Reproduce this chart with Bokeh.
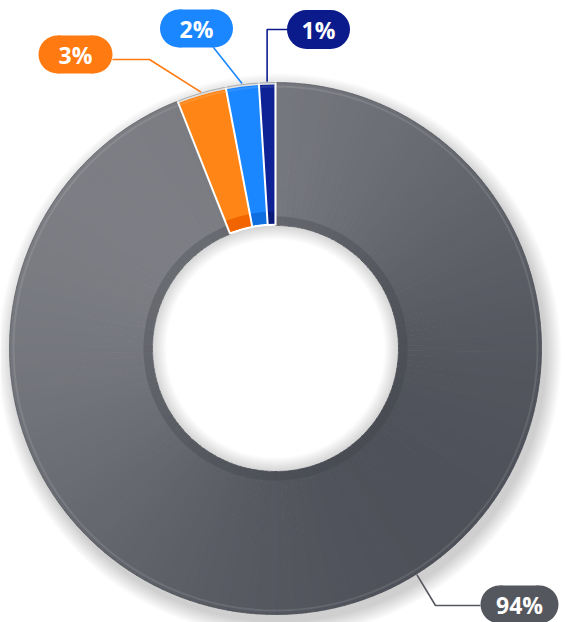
import numpy as np
from bokeh.plotting import figure
from bokeh.models import Range1d
from bokeh.core.properties import value
from bokeh.embed import file_html
from bokeh.resources import INLINE

# ---------------- data (anticlockwise from 12 o'clock) ----------------
labels = ["1%", "2%", "3%", "94%"]
shares = [1, 2, 3, 94]
slice_colors = ["#0e2296", "#1a86ff", "#ff8616", "#5e6168"]
face_colors = ["#0a1a78", "#0f6fe0", "#f26400", "#4c4f56"]
box_colors = ["#0b1b8c", "#1a86ff", "#ff7a10", "#55575e"]

# ---------------- layout (screen pixels) ----------------
CX, CY = 275, 348
R_OUT, R_IN = 266, 123
W, H = 565, 622

def S(sx, sy):
    return sx - CX, CY - sy

box_center = [(318, 29), (196, 28), (75, 54), (519, 604)]
box_size = [(63, 39), (73, 38), (74, 38), (78, 38)]
leader_start = [(287, 29), (213, 47), (112, 59), (480, 605)]
leader_elbow = ["v", None, (149, 59), (435, 605)]
anchor_override = [None, None, None, -58.0]

p = figure(width=W, height=H,
           x_range=Range1d(-CX, W - CX), y_range=Range1d(CY - H, CY),
           x_axis_type=None, y_axis_type=None,
           output_backend="svg", toolbar_location=None, min_border=0)
p.grid.visible = False
p.outline_line_color = None
p.background_fill_color = "white"
p.border_fill_color = "white"

# angles
vals = np.array(shares, dtype=float)
frac = vals / vals.sum()
starts = np.pi / 2 + 2 * np.pi * np.concatenate([[0], np.cumsum(frac)[:-1]])
ends = starts + 2 * np.pi * frac

# ---------------- soft outer shadow ----------------
for i in range(16):
    p.annulus(x=4, y=-7, inner_radius=200, outer_radius=R_OUT + 16 - i,
              fill_color="black", fill_alpha=0.012, line_color=None)

# ---------------- slices ----------------
def mix(c1, c2, t):
    a = np.array([int(c1[k:k + 2], 16) for k in (1, 3, 5)], dtype=float)
    b = np.array([int(c2[k:k + 2], 16) for k in (1, 3, 5)], dtype=float)
    c = a + (b - a) * t
    return "#%02x%02x%02x" % tuple(int(round(v)) for v in c)

for i in range(len(shares)):
    a0, a1 = starts[i], ends[i]
    if labels[i] == "94%":
        n = 160
        edges = np.linspace(a0, a1, n + 1)
        for k in range(n):
            mid = 0.5 * (edges[k] + edges[k + 1])
            t = 0.5 * (1 + np.cos(mid - np.radians(135)))
            col = mix("#4e5159", "#7c7e84", t)
            p.annular_wedge(x=0, y=0, inner_radius=R_IN, outer_radius=R_OUT,
                            start_angle=edges[k], end_angle=edges[k + 1] + 0.002,
                            fill_color=col, line_color=col, line_width=0.6)
        # inner wall face
        for k in range(n):
            mid = 0.5 * (edges[k] + edges[k + 1])
            t = 0.5 * (1 + np.cos(mid - np.radians(135)))
            col = mix("#45484f", "#5a5c62", t)
            p.annular_wedge(x=0, y=0, inner_radius=R_IN, outer_radius=R_IN + 9,
                            start_angle=edges[k], end_angle=edges[k + 1] + 0.002,
                            fill_color=col, fill_alpha=0.55, line_color=None)
    else:
        p.annular_wedge(x=0, y=0, inner_radius=R_IN + 2, outer_radius=R_OUT - 2,
                        start_angle=a0, end_angle=a1,
                        fill_color=slice_colors[i], line_color=None)
        p.annular_wedge(x=0, y=0, inner_radius=R_IN + 2, outer_radius=R_IN + 14,
                        start_angle=a0, end_angle=a1,
                        fill_color=face_colors[i], line_color=None)

# separators between slices
for a in starts:
    p.segment(x0=R_IN * np.cos(a), y0=R_IN * np.sin(a),
              x1=(R_OUT + 1) * np.cos(a), y1=(R_OUT + 1) * np.sin(a),
              line_color="white", line_width=2)

# rims
p.circle(x=0, y=0, radius=R_OUT - 4, fill_color=None, line_color="white",
         line_alpha=0.10, line_width=2)
p.circle(x=0, y=0, radius=R_OUT, fill_color=None, line_color="#3f4147",
         line_alpha=0.35, line_width=1)

# soft shadow inside the hole
for i in range(14):
    p.annulus(x=0, y=0, inner_radius=R_IN - 14 + i, outer_radius=R_IN,
              fill_color="black", fill_alpha=0.012, line_color=None)

# ---------------- leader lines and labels ----------------
for i in range(len(shares)):
    if anchor_override[i] is None:
        am = 0.5 * (starts[i] + ends[i])
    else:
        am = np.radians(anchor_override[i])
    ax, ay = (R_OUT + 1) * np.cos(am), (R_OUT + 1) * np.sin(am)
    sx, sy = S(*leader_start[i])
    xs, ys = [sx], [sy]
    el = leader_elbow[i]
    if el == "v":
        xs.append(ax); ys.append(sy)
    elif el is not None:
        ex, ey = S(*el)
        xs.append(ex); ys.append(ey)
    xs.append(ax); ys.append(ay)
    p.line(xs, ys, line_color=box_colors[i], line_width=1.6)

    bx, by = S(*box_center[i])
    bw, bh = box_size[i]
    p.rect(x=bx, y=by, width=bw - bh, height=bh, fill_color=box_colors[i], line_color=None)
    p.circle(x=[bx - (bw - bh) / 2, bx + (bw - bh) / 2], y=[by, by], radius=bh / 2,
             fill_color=box_colors[i], line_color=None)
    p.text(x=[bx], y=[by], text=[labels[i]], text_font=value("Open Sans"),
           text_font_style="bold", text_font_size="23px", text_color="white",
           text_align="center", text_baseline="middle")

open("out.html", "w").write(file_html(p, INLINE))
